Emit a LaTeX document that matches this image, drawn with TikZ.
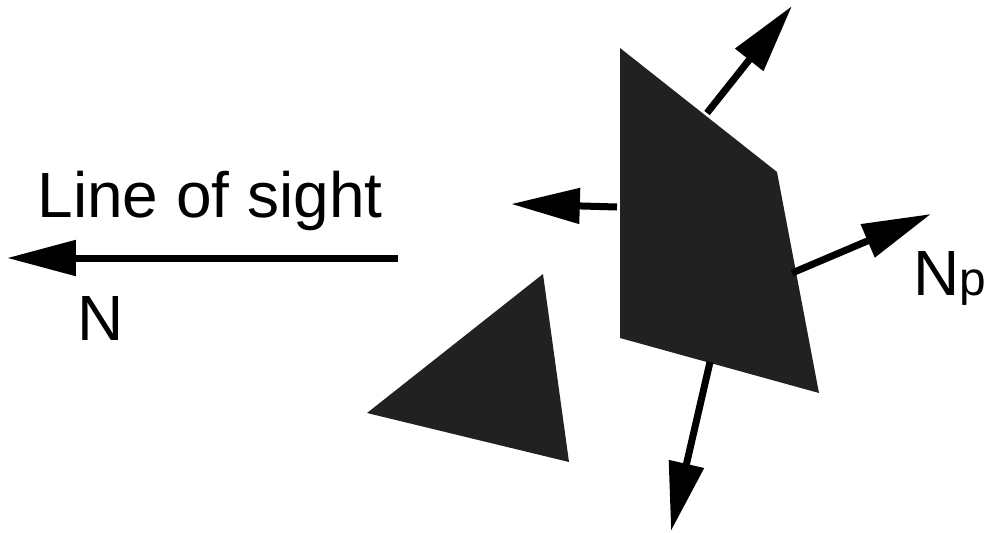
\documentclass[tikz,border=0pt]{standalone}
\usepackage{fontspec}
\setmainfont{Liberation Sans}
\usetikzlibrary{arrows.meta,positioning}
\definecolor{facet}{RGB}{33,33,33}

\begin{document}
\begin{tikzpicture}[
    x=0.025cm, y=-0.025cm,
    label/.style={font=\fontsize{45.5}{54}\selectfont, inner sep=0pt, anchor=base},
    normal/.style={-{Triangle[length=1.72cm, width=0.86cm]}, line width=0.175cm, black},
    poly/.style={fill=facet}
  ]
    \useasboundingbox (0,0) rectangle (989,533);

    % polygons
    \fill[poly] (620,48) -- (777,172) -- (819,393) -- (620,338) -- cycle;
    \fill[poly] (543,274) -- (569,462) -- (367,413) -- cycle;

    % end points of the normals
    \coordinate (sightA) at (398,258);
    \coordinate (sightB) at (7,258);
    \coordinate (upA) at (707,113);
    \coordinate (upB) at (792,6);
    \coordinate (leftA) at (617,207);
    \coordinate (leftB) at (511,204);
    \coordinate (rightA) at (792,273);
    \coordinate (rightB) at (931,214);
    \coordinate (downA) at (710,362);
    \coordinate (downB) at (671,531);

    \draw[normal] (sightA) -- (sightB);
    \draw[normal] (upA) -- (upB);
    \draw[normal] (leftA) -- (leftB);
    \draw[normal] (rightA) -- (rightB);
    \draw[normal] (downA) -- (downB);

    % labels
    \node[label] (sight) at (210,217) {Line of sight};
    \node[label] (n) at (101,340) {N};
    \node[label, anchor=base west] (np) at (913,295) {N\fontsize{34}{40}\selectfont p};
  \end{tikzpicture}
\end{document}
